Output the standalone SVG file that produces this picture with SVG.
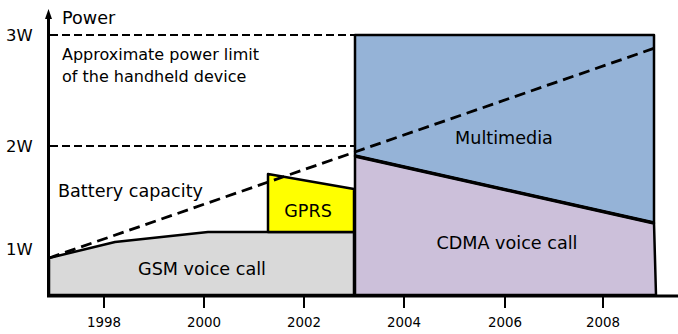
<svg xmlns="http://www.w3.org/2000/svg" width="678" height="334" viewBox="0 0 678 334">
  <style>
    text { font-family: "DejaVu Sans", Verdana, sans-serif; fill: #000; }
    .lbl { font-size: 17.6px; text-anchor: middle; }
    .note { font-size: 16px; }
    .ax { font-size: 16.4px; }
    .yr { font-size: 13.4px; text-anchor: middle; }
    .area { stroke: #000; stroke-width: 2.5; stroke-linejoin: round; }
    .dash { fill: none; stroke: #000; stroke-width: 2; stroke-dasharray: 8 4; }
    .trend { fill: none; stroke: #000; stroke-width: 2.8; stroke-dasharray: 11 6; }
    .axis { fill: none; stroke: #000; stroke-width: 3; }
    .tick { stroke: #000; stroke-width: 2; }
  </style>

  <!-- stacked power areas -->
  <g id="gsm">
    <polygon class="area" fill="#d9d9d9" points="49,258 115,242 208,232 354,232 354,295 49,295"/>
    <text class="lbl" x="202" y="275">GSM voice call</text>
  </g>
  <g id="gprs">
    <polygon class="area" fill="#ffff00" points="268,232 268,174 354,189 354,232"/>
    <text class="lbl" x="308" y="217">GPRS</text>
  </g>
  <g id="multimedia">
    <polygon class="area" fill="#95b3d7" points="355,35 654,35 654,223 355,156"/>
    <text class="lbl" x="504" y="144">Multimedia</text>
  </g>
  <g id="cdma">
    <polygon class="area" fill="#ccc0da" points="355,156 654,223 656,295 355,295"/>
    <line x1="355" y1="156" x2="654" y2="223" stroke="#000" stroke-width="3.5"/>
    <text class="lbl" x="507" y="249">CDMA voice call</text>
  </g>

  <!-- reference lines -->
  <g id="connectors">
    <line class="dash" x1="50" y1="35" x2="355" y2="35"/>
    <line class="dash" x1="50" y1="146" x2="355" y2="146"/>
    <line class="trend" x1="49" y1="258" x2="655" y2="48"/>
  </g>

  <g id="notes">
    <text class="note" x="62" y="60">Approximate power limit</text>
    <text class="note" x="62" y="82">of the handheld device</text>
    <text class="lbl" x="58" y="197" style="text-anchor:start">Battery capacity</text>
  </g>

  <!-- axes -->
  <g id="axes">
    <line class="axis" x1="48.5" y1="297" x2="48.5" y2="17"/>
    <polygon points="48.5,9 52,19 45,19" fill="#000"/>
    <line class="axis" x1="47" y1="296" x2="678" y2="296"/>
    <text x="62" y="24" style="font-size:17.6px">Power</text>
    <text class="ax" x="6" y="41">3W</text>
    <text class="ax" x="6" y="152">2W</text>
    <text class="ax" x="6" y="255">1W</text>
    <line class="tick" x1="104" y1="296" x2="104" y2="308"/>
    <line class="tick" x1="204" y1="296" x2="204" y2="308"/>
    <line class="tick" x1="304" y1="296" x2="304" y2="308"/>
    <line class="tick" x1="404" y1="296" x2="404" y2="308"/>
    <line class="tick" x1="505" y1="296" x2="505" y2="308"/>
    <line class="tick" x1="603" y1="296" x2="603" y2="308"/>
    <text class="yr" x="104" y="327">1998</text>
    <text class="yr" x="204" y="327">2000</text>
    <text class="yr" x="304" y="327">2002</text>
    <text class="yr" x="404" y="327">2004</text>
    <text class="yr" x="505" y="327">2006</text>
    <text class="yr" x="603" y="327">2008</text>
  </g>
</svg>
